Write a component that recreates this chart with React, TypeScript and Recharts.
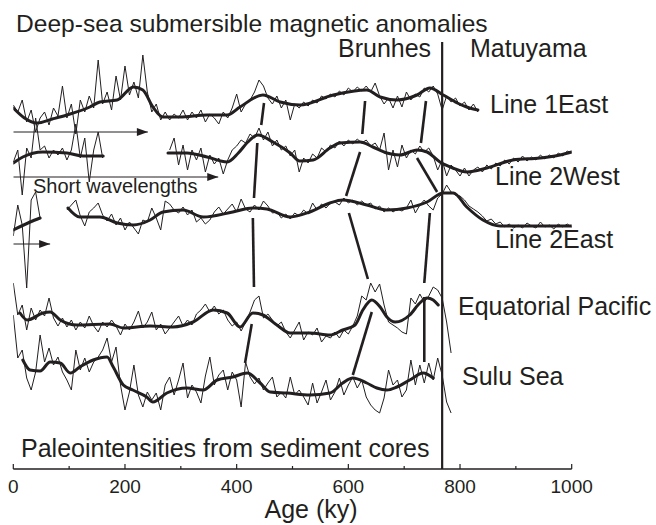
import React from 'react';
import { LineChart, Line, XAxis, YAxis, ReferenceLine } from 'recharts';

const INK = '#231f20';
const FONT = '"Liberation Sans", Arial, Helvetica, sans-serif';

// spacing of the raw (thin) records, ky
const STEP = 8;
const AGE_TICKS = [0, 100, 200, 300, 400, 500, 600, 700, 800, 900, 1000];
const BRUNHES_MATUYAMA = 768;

// plotting level of each record's zero line (plot units, top = 0)
const BASE = { l1e: 105, l2w: 155, l2e: 215, eqpac: 320, sulu: 385 };

// ---- Line 1 East (deep-tow anomaly) ----
const l1eRaw = [
  0, -7, 5, -17, -5, -27, -13, -7, -20, -3,
  -11, 19, -13, 1, -29, 5, -7, 9, -3, 45,
  1, 13, -5, 29, 5, 39, 10, 23, 7, 50,
  13, -7, 1, -15, -7, -15, -9, -13, -5, -15,
  -7, -13, -5, -17, -9, -13, -19, -7, -13, -3,
  11, -7, 1, 5, 13, 25, 19, 7, 1, 9,
  -3, 5, -15, 1, -3, 3, -1, 5, 2, 9,
  6, 11, 8, 14, 10, 17, 13, 18, 14, 19,
  13, 22, 9, 1, 7, -3, 9, -2, 13, 5,
  11, 8, 17, 13, 19, 11, -5, 9, 3, 7,
  -1, 3, -5, 1, -7,
];
const l1eSmoothAge = [0, 20, 42, 70, 96, 137, 155, 186, 215, 232, 250, 268, 298, 347, 383, 406, 447, 478, 513, 573, 633, 657, 687, 723, 746, 770, 795, 812, 832];
const l1eSmooth = [-3, -13, -18, -14, -10, -2, 3, 5, 18, 15, -2, -12, -12, -10, -10, -2, 10, 3, 0, 10, 15, 8, 5, 10, 17, 10, 2, -2, -5];

// ---- Line 2 West ----
const l2wRawA = [-7, 5, -40, 7, -3, 37, 5, 9, -3, 5, 0, 7, -5, 5, 31, -3, 17, -27, 5, 23, -3];
const l2wRawB = [
  5, 17, -10, 10, -15, 5, -5, 7, -17, 0,
  -9, -3, -19, -5, 5, 9, 15, 12, 21, 17,
  27, 15, 23, 9, 15, 5, 9, -1, 5, -17,
  -3, -8, 1, -3, 7, 3, 10, 7, 14, 9,
  15, 11, 16, 12, 15, 9, 12, 5, 22, -15,
  5, -12, 10, -3, 5, 1, 9, 3, 7, -1,
  -15, -5, -21, -10, -15, -21, -13, -21, -15, -12,
  -17, -10, -14, -8, -11, -5, -9, -3, -7, -1,
  -6, -2, -5, 0, -4, 0, -3, 2, -1, 4, 2,
];
const l2wSmoothAgeA = [0, 17, 53, 96, 125, 161];
const l2wSmoothA = [-8, -2, 3, 2, -1, -1];
const l2wSmoothAgeB = [277, 311, 347, 383, 403, 420, 438, 465, 496, 513, 537, 567, 585, 621, 644, 669, 692, 723, 741, 764, 787, 812, 848, 895, 943, 979, 1000];
const l2wSmoothB = [2, 2, -2, -7, 2, 13, 20, 13, 2, -6, -5, 7, 12, 13, 8, 2, 0, 5, 3, -7, -13, -17, -13, -5, -3, 0, 3];

// ---- Line 2 East ----
const l2eRawA = [-21, 10, -10, -73, 15, 23, -3];
const l2eRawB = [
  5, 10, 15, -1, -11, 3, 7, 12, 0, -6,
  1, -10, -3, -15, -7, -13, -19, -5, -7, 7,
  -3, -15, 14, 11, 5, 2, 8, 0, 5, -7,
  -3, -9, -5, 3, 8, 1, 6, 11, 3, 16,
  6, 3, 10, 5, 14, 9, 2, 3, -3, 1,
  -4, 2, -1, 5, 1, 12, 5, 11, 7, 12,
  13, 10, 17, 12, 15, 10, 14, 10, 12, 6,
  9, 3, 7, 3, 6, 4, 7, 15, 2, 10,
  15, 9, 5, 17, 21, 30, 23, 20, 19, 15,
  9, 6, 3, -1, -6, -4, -9, -7, -12, -9,
  -13, -10, -13, -8, -11, -13, -7, -12, -10, -14,
  -9, -12, -9, -12,
];
const l2eSmoothAgeA = [0, 30, 48];
const l2eSmoothA = [-15, -7, -3];
const l2eSmoothAgeB = [98, 119, 155, 186, 215, 245, 268, 304, 340, 393, 429, 454, 496, 531, 567, 590, 633, 669, 705, 741, 770, 788, 812, 841, 872, 931, 1000];
const l2eSmoothB = [7, -2, -2, -8, -10, -5, 3, 5, -2, 3, 7, 6, -2, 3, 12, 15, 10, 5, 7, 13, 22, 22, 8, -5, -11, -11, -11];

// ---- Equatorial Pacific (sediment paleointensity) ----
const eqpacRaw = [
  37, 5, 15, -10, 12, 0, 10, 4, 22, 2,
  -6, 2, -7, 0, -10, -2, -8, 4, -6, -12,
  -2, -7, 0, -6, -15, -4, -10, -2, 9, -8,
  -2, 8, -10, -4, -14, -8, -2, 4, -6, 0,
  -5, 6, 10, 16, 8, 14, 6, 10, 0, -6,
  -2, -11, -2, 8, 20, 24, 2, 6, 0, -6,
  -2, -12, -18, -10, -2, -20, -12, -15, -8, -22,
  -16, -18, -12, -18, -10, -14, -6, 4, 24, 20,
  37, 28, 36, 15, -2, -5, -8, -12, -14, 22,
  16, 26, 18, 24, 33, 30, 22, -2, -33,
];
const eqpacSmoothAge = [12, 25, 53, 66, 84, 114, 173, 197, 245, 286, 322, 358, 383, 406, 429, 447, 472, 496, 531, 567, 590, 612, 626, 642, 657, 669, 684, 710, 728, 741, 752, 761];
const eqpacSmooth = [7, 0, 7, 8, 0, -5, -4, -8, -6, -7, -2, 10, 7, -7, 7, 5, -5, -13, -13, -15, -10, -5, 10, 20, 13, 3, -2, 5, 17, 22, 20, 15];

// ---- Sulu Sea ----
const suluRaw = [
  70, 27, 35, 7, -5, 13, 50, 23, 37, 20,
  28, 13, 5, -5, 35, 15, 27, 13, 23, 28,
  35, 47, 23, 38, 0, -25, -7, 20, -10, -22,
  -7, -15, -8, -25, 0, 8, -10, 5, 22, -13,
  0, -7, -18, 9, 28, 0, 10, 15, -5, 13,
  5, -22, 23, 8, 1, 7, -5, 2, 8, -12,
  -7, -13, 8, -10, -5, -12, -20, 2, -18, -7,
  5, -15, -7, 7, -10, 0, 8, -3, 5, -12,
  -20, -25, -28, -13, 15, 0, 5, -12, -5, 25,
  0, 20, 2, 22, 5, 27, 10, -17, -28,
];
const suluSmoothAge = [17, 30, 48, 66, 84, 102, 119, 143, 168, 179, 197, 214, 239, 250, 275, 311, 340, 365, 393, 419, 442, 460, 490, 531, 567, 590, 608, 633, 651, 669, 687, 710, 734, 752];
const suluSmooth = [25, 15, 14, 23, 22, 12, 18, 25, 28, 18, 0, -5, -12, -17, -8, -3, -5, 5, 8, 12, 2, -7, -8, -10, -8, 2, 7, 2, -3, -5, -2, 5, 12, 7];

// tie lines between correlated features: [age, level, age, level]
const TIES = [
  [630, 101, 625, 134], [621, 152, 596, 196], [601, 213, 635, 279], [642, 312, 608, 375],
  [739, 101, 730, 143], [723, 158, 759, 192], [746, 213, 736, 283], [736, 297, 736, 362],
  [449, 103, 444, 125], [437, 143, 431, 198], [429, 218, 431, 287], [427, 324, 415, 363],
];

// "short wavelengths" arrows: [end age, level]
const ARROWS = [[241, 132], [367, 177], [66, 244]];

const TEXTS: { t: string; x: number; y: number; s?: number; a?: 'middle' }[] = [
  { t: 'Deep-sea submersible magnetic anomalies', x: 16, y: 32, s: 24.6 },
  { t: 'Brunhes', x: 338, y: 57 },
  { t: 'Matuyama', x: 470, y: 57 },
  { t: 'Line 1East', x: 490, y: 113 },
  { t: 'Line 2West', x: 495, y: 185 },
  { t: 'Line 2East', x: 495, y: 248 },
  { t: 'Equatorial Pacific', x: 458, y: 315 },
  { t: 'Sulu Sea', x: 462, y: 385 },
  { t: 'Paleointensities from sediment cores', x: 21, y: 457 },
  { t: 'Short wavelengths', x: 33, y: 193, s: 20 },
  { t: 'Age (ky)', x: 311, y: 518, a: 'middle' },
];

type Row = { age: number; v: number | null };

const rawRows = (base: number, segs: { start: number; values: number[] }[]): Row[] => {
  const rows: Row[] = [];
  segs.forEach((s, k) => {
    if (k > 0) rows.push({ age: s.start - STEP / 2, v: null });
    s.values.forEach((a, i) => rows.push({ age: s.start + i * STEP, v: base - a }));
  });
  return rows;
};

const smoothRows = (base: number, segs: { ages: number[]; values: number[] }[]): Row[] => {
  const rows: Row[] = [];
  segs.forEach((s, k) => {
    if (k > 0) rows.push({ age: s.ages[0] - 1, v: null });
    s.values.forEach((a, i) => rows.push({ age: s.ages[i], v: base - a }));
  });
  return rows;
};

const RAW = [
  rawRows(BASE.l1e, [{ start: 0, values: l1eRaw }]),
  rawRows(BASE.l2w, [{ start: 0, values: l2wRawA }, { start: 280, values: l2wRawB }]),
  rawRows(BASE.l2e, [{ start: 0, values: l2eRawA }, { start: 96, values: l2eRawB }]),
  rawRows(BASE.eqpac, [{ start: 0, values: eqpacRaw }]),
  rawRows(BASE.sulu, [{ start: 0, values: suluRaw }]),
];

const SMOOTH = [
  smoothRows(BASE.l1e, [{ ages: l1eSmoothAge, values: l1eSmooth }]),
  smoothRows(BASE.l2w, [{ ages: l2wSmoothAgeA, values: l2wSmoothA }, { ages: l2wSmoothAgeB, values: l2wSmoothB }]),
  smoothRows(BASE.l2e, [{ ages: l2eSmoothAgeA, values: l2eSmoothA }, { ages: l2eSmoothAgeB, values: l2eSmoothB }]),
  smoothRows(BASE.eqpac, [{ ages: eqpacSmoothAge, values: eqpacSmooth }]),
  smoothRows(BASE.sulu, [{ ages: suluSmoothAge, values: suluSmooth }]),
];

const AgeTick = (props: any) => {
  const { x, y, payload } = props;
  const major = payload.value % 200 === 0;
  return (
    <g>
      <line x1={x} x2={x} y1={y} y2={y - (major ? 5 : 3)} stroke={INK} strokeWidth={1.2} />
      {major && (
        <text x={x} y={y + 24} textAnchor="middle" fontSize={19} fontFamily={FONT} fill={INK}>
          {payload.value}
        </text>
      )}
    </g>
  );
};

// arrowhead drawn on the last point of an arrow line
const arrowHead = (props: any) => {
  const { cx, cy, index, key } = props;
  if (index !== 1) return <g key={key} />;
  return <path key={key} d={`M${cx},${cy} L${cx - 11},${cy - 4} L${cx - 11},${cy + 4} Z`} fill={INK} />;
};

export default function App() {
  return (
    <div style={{ position: 'absolute', left: 0, top: 0, width: 656, height: 525, background: '#fff' }}>
      <LineChart width={656} height={525} margin={{ top: 0, right: 84.3, bottom: 0, left: 13.3 }}>
        <XAxis
          type="number"
          dataKey="age"
          domain={[0, 1000]}
          ticks={AGE_TICKS}
          interval={0}
          height={56}
          tickSize={0}
          tickMargin={0}
          tickLine={false}
          tick={<AgeTick />}
          axisLine={{ stroke: INK, strokeWidth: 1.3 }}
          allowDataOverflow
        />
        <YAxis type="number" domain={[0, 469]} reversed hide allowDataOverflow />

        {RAW.map((rows, i) => (
          <Line
            key={`raw-${i}`}
            data={rows}
            dataKey="v"
            type="linear"
            stroke={INK}
            strokeWidth={1}
            dot={false}
            activeDot={false}
            isAnimationActive={false}
          />
        ))}
        {SMOOTH.map((rows, i) => (
          <Line
            key={`smooth-${i}`}
            data={rows}
            dataKey="v"
            type="monotone"
            stroke={INK}
            strokeWidth={3}
            strokeLinecap="round"
            strokeLinejoin="round"
            dot={false}
            activeDot={false}
            isAnimationActive={false}
          />
        ))}
        {TIES.map(([a1, v1, a2, v2], i) => (
          <Line
            key={`tie-${i}`}
            data={[{ age: a1, v: v1 }, { age: a2, v: v2 }]}
            dataKey="v"
            stroke={INK}
            strokeWidth={2.6}
            dot={false}
            activeDot={false}
            isAnimationActive={false}
          />
        ))}
        {ARROWS.map(([end, level], i) => (
          <Line
            key={`arrow-${i}`}
            data={[{ age: 0, v: level }, { age: end, v: level }]}
            dataKey="v"
            stroke={INK}
            strokeWidth={1}
            dot={arrowHead}
            activeDot={false}
            isAnimationActive={false}
          />
        ))}
        <ReferenceLine
          segment={[{ x: BRUNHES_MATUYAMA, y: 42 }, { x: BRUNHES_MATUYAMA, y: 469 }]}
          stroke={INK}
          strokeWidth={2.2}
        />
      </LineChart>
      <svg width={656} height={525} style={{ position: 'absolute', left: 0, top: 0, pointerEvents: 'none' }}>
        {TEXTS.map((d) => (
          <text
            key={d.t}
            x={d.x}
            y={d.y}
            fontSize={d.s ?? 25}
            fontFamily={FONT}
            fill={INK}
            textAnchor={d.a ?? 'start'}
          >
            {d.t}
          </text>
        ))}
      </svg>
    </div>
  );
}
